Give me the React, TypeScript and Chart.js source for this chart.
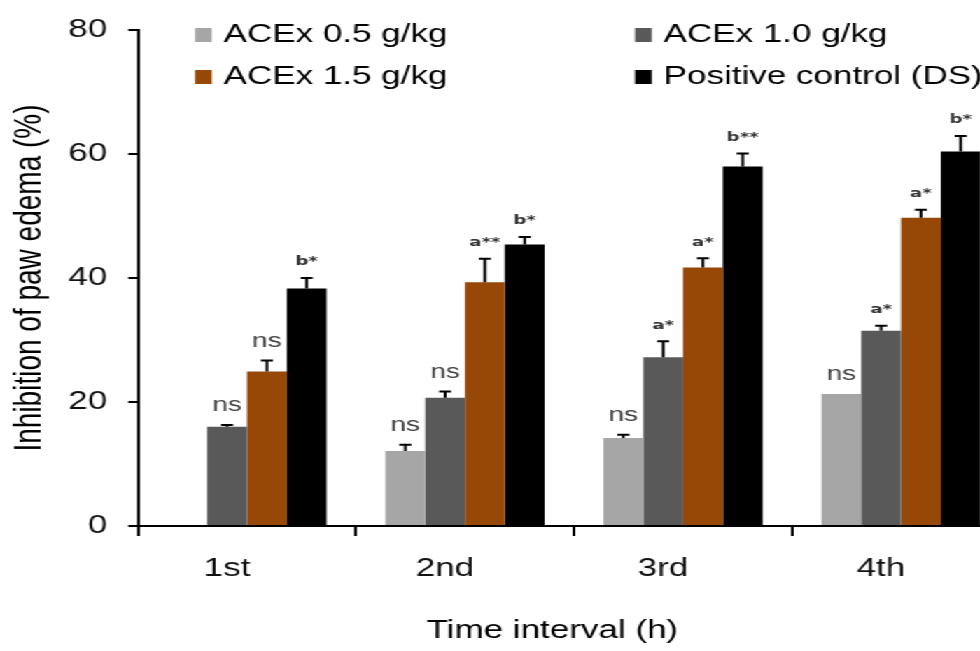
import React, { useEffect, useRef } from 'react';
import { Chart, registerables } from 'chart.js';

Chart.register(...registerables);

// ---------- data ----------
const categories = ['1st', '2nd', '3rd', '4th'];
const seriesNames = ['ACEx 0.5 g/kg', 'ACEx 1.0 g/kg', 'ACEx 1.5 g/kg', 'Positive control (DS)'];
const seriesColors = ['#a6a6a6', '#595959', '#974806', '#000000'];

const acex05 = [null, 12.1, 14.2, 21.3];
const acex10 = [16.0, 20.7, 27.2, 31.5];
const acex15 = [24.9, 39.3, 41.7, 49.7];
const posCtrl = [38.3, 45.4, 58.0, 60.4];

const err05 = [0, 1.0, 0.5, 0];
const err10 = [0.3, 1.0, 2.6, 0.8];
const err15 = [1.8, 3.8, 1.5, 1.3];
const errCtrl = [1.7, 1.2, 2.1, 2.5];

const sig05 = ['', 'ns', 'ns', 'ns'];
const sig10 = ['ns', 'ns', 'a*', 'a*'];
const sig15 = ['ns', 'a**', 'a*', 'a*'];
const sigCtrl = ['b*', 'b*', 'b**', 'b*'];

const yMin = 0;
const yMax = 80;
const yStep = 20;

const yTitle = 'Inhibition of paw edema (%)';
const xTitle = 'Time interval (h)';

// ---------- layout / style ----------
const STRETCH = 1.4;
const CW = 745;
const CH = 651;
const FONT = '"Liberation Sans", Arial, Helvetica, sans-serif';

const allValues = [acex05, acex10, acex15, posCtrl];
const allErrors = [err05, err10, err15, errCtrl];
const allSigs = [sig05, sig10, sig15, sigCtrl];

const overlayPlugin = {
  id: 'overlay',
  afterDatasetsDraw(chart: any) {
    const ctx = chart.ctx;
    const yScale = chart.scales.y;
    chart.data.datasets.forEach((_ds: any, i: number) => {
      const meta = chart.getDatasetMeta(i);
      meta.data.forEach((bar: any, j: number) => {
        const v = allValues[i][j];
        if (v == null) return;
        const e = allErrors[i][j] || 0;
        const base = yScale.getPixelForValue(v);
        const top = yScale.getPixelForValue(v + e);
        if (e > 0) {
          ctx.save();
          ctx.strokeStyle = '#000';
          ctx.lineWidth = 2;
          ctx.beginPath();
          ctx.moveTo(bar.x, base);
          ctx.lineTo(bar.x, top);
          ctx.moveTo(bar.x - 4.3, top);
          ctx.lineTo(bar.x + 4.3, top);
          ctx.stroke();
          ctx.restore();
        }
        const s = allSigs[i][j];
        if (s) {
          ctx.save();
          ctx.textAlign = 'center';
          ctx.textBaseline = 'middle';
          if (s === 'ns') {
            ctx.font = `20px ${FONT}`;
            ctx.fillStyle = '#404040';
            ctx.fillText(s, bar.x, top - 19);
          } else {
            ctx.font = `bold 13px "DejaVu Sans", sans-serif`;
            ctx.fillStyle = '#333';
            ctx.fillText(s, bar.x, top - 16);
          }
          ctx.restore();
        }
      });
    });
  },
  afterDraw(chart: any) {
    const ctx = chart.ctx;
    ctx.save();
    // legend (2 x 2)
    const cols = [139.3, 453.6];
    const rows = [35, 77];
    ctx.font = `25px ${FONT}`;
    ctx.textBaseline = 'middle';
    ctx.textAlign = 'left';
    seriesNames.forEach((name, k) => {
      const col = k % 2;
      const row = Math.floor(k / 2);
      const x = cols[col];
      const y = rows[row];
      ctx.fillStyle = seriesColors[k];
      ctx.fillRect(x, y - 7, 12, 14);
      ctx.fillStyle = '#000';
      ctx.fillText(name, x + 20.5, y);
    });
    // x axis title
    ctx.textAlign = 'center';
    ctx.fillStyle = '#000';
    ctx.fillText(xTitle, 394.6, 631);
    ctx.restore();
  },
};

export default function App() {
  const canvasRef = useRef<HTMLCanvasElement | null>(null);

  useEffect(() => {
    document.documentElement.style.overflow = 'hidden';
    const canvas = canvasRef.current;
    if (!canvas) return;
    const chart = new Chart(canvas, {
      type: 'bar',
      data: {
        labels: categories,
        datasets: seriesNames.map((name, i) => ({
          label: name,
          data: allValues[i] as any,
          backgroundColor: seriesColors[i],
          borderWidth: 0,
          categoryPercentage: 0.73,
          barPercentage: 1.0,
        })),
      },
      options: {
        responsive: false,
        animation: false,
        devicePixelRatio: 1,
        events: [],
        layout: { padding: { top: 26, right: CW - 721.5, left: 0, bottom: 0 } },
        plugins: {
          legend: { display: false },
          tooltip: { enabled: false },
          title: { display: false },
        },
        scales: {
          x: {
            type: 'category',
            offset: true,
            grid: {
              display: true,
              offset: true,
              drawOnChartArea: false,
              drawTicks: true,
              tickLength: 10,
              color: '#000',
              lineWidth: 2,
            },
            border: { display: true, color: '#000', width: 2 },
            ticks: {
              font: { family: FONT, size: 25 },
              color: '#111',
              padding: 18,
              labelOffset: -14.3,
              maxRotation: 0,
              autoSkip: false,
            },
            afterFit: (s: any) => {
              s.height = CH - 526;
            },
          },
          y: {
            min: yMin,
            max: yMax,
            grid: {
              display: true,
              drawOnChartArea: false,
              drawTicks: true,
              tickLength: 7,
              color: '#000',
              lineWidth: 2,
            },
            border: { display: true, color: '#000', width: 2 },
            ticks: {
              stepSize: yStep,
              font: { family: FONT, size: 25 },
              color: '#111',
              padding: 15,
            },
            title: {
              display: true,
              text: yTitle,
              font: { family: FONT, size: 28 },
              color: '#000',
              padding: { top: 4, bottom: 0 },
            },
            afterFit: (s: any) => {
              s.width = 98.6;
            },
          },
        },
      },
      plugins: [overlayPlugin],
    } as any);
    return () => chart.destroy();
  }, []);

  return (
    <div
      style={{
        position: 'fixed',
        left: 0,
        top: 0,
        width: CW,
        height: CH,
        transform: `scaleX(${STRETCH})`,
        transformOrigin: '0 0',
        background: '#fff',
      }}
    >
      <canvas ref={canvasRef} width={CW} height={CH} style={{ width: CW, height: CH, display: 'block' }} />
    </div>
  );
}
